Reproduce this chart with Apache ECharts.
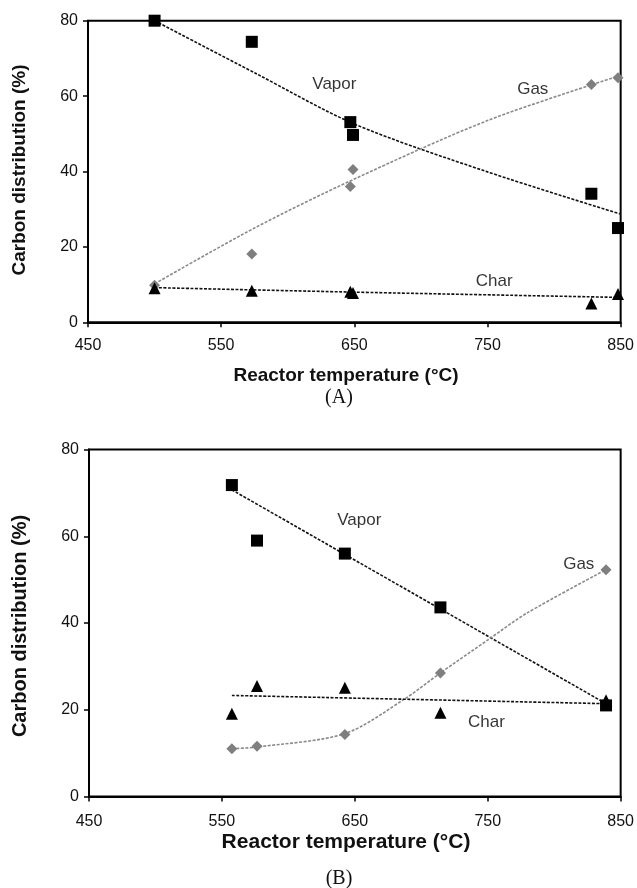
<!DOCTYPE html>
<html>
<head>
<meta charset="utf-8">
<script src="https://cdn.jsdelivr.net/npm/echarts@6/dist/echarts.min.js"></script>
<style>
html,body{margin:0;padding:0;background:#fff;}
#chart{width:637px;height:888px;}
</style>
</head>
<body>
<div id="chart"></div>
<script>
// ---- Data ----
const xTickValues = [450, 550, 650, 750, 850];
const yTickValues = [0, 20, 40, 60, 80];

// Panel A measured points [temperature, %]
const aVapor = [[500, 80], [573, 74.4], [647, 53.1], [649, 49.7], [828, 34.1], [848, 25.0]];
const aGas   = [[500, 9.8], [573, 18.1], [649, 40.5], [647, 36.0], [828, 63.1], [848, 64.9]];
const aChar  = [[500, 9.0], [573, 8.4], [647, 8.1], [649, 7.8], [828, 5.0], [848, 7.5]];
// Panel A trend lines
const aVaporTrend = [[500, 80], [575, 66.2], [650, 52.6], [750, 39.9], [850, 28.7]];
const aGasTrend   = [[500, 10.2], [575, 25.0], [650, 38.0], [750, 53.5], [850, 65.5]];
const aCharTrend  = [[500, 9.2], [650, 8.0], [850, 6.6]];
// Panel A series labels [text, x, y]
const aLabels = [['Vapor', 635, 63.2], ['Gas', 784, 61.9], ['Char', 755, 11.0]];

// Panel B measured points
const bVapor = [[557.5, 71.8], [576.4, 59.0], [642.5, 56.0], [714.4, 43.6], [839, 21.0]];
const bGas   = [[557.5, 11.0], [576.4, 11.6], [642.5, 14.3], [714.4, 28.5], [839, 52.3]];
const bChar  = [[557.5, 19.1], [576.4, 25.5], [642.5, 25.1], [714.4, 19.3], [839, 22.2]];
// Panel B trend lines
const bVaporTrend = [[557.5, 70.7], [839, 21.4]];
const bGasTrend   = [[557.5, 11.0], [576, 11.4], [642.5, 14.5], [688, 22.6], [714, 28.4], [752, 36.5], [779, 42.2], [839, 52.3]];
const bCharTrend  = [[557.5, 23.3], [839, 21.4]];
const bLabels = [['Vapor', 653.4, 63.7], ['Gas', 818.5, 53.6], ['Char', 749, 17.2]];

// ---- Chart ----
const chart = echarts.init(document.getElementById('chart'), null, {renderer: 'canvas'});
const FONT = 'Liberation Sans, Arial, sans-serif';

function xAxisDef(gi, margin) {
  return {
    type: 'value', gridIndex: gi, min: xTickValues[0], max: xTickValues[xTickValues.length - 1],
    interval: xTickValues[1] - xTickValues[0],
    axisLine: {show: true, lineStyle: {color: '#000', width: 2}},
    axisTick: {show: true, length: 5, lineStyle: {color: '#000', width: 1.5}},
    axisLabel: {color: '#111', fontSize: 16, fontFamily: FONT, margin: margin},
    splitLine: {show: false}
  };
}
function yAxisDef(gi) {
  return {
    type: 'value', gridIndex: gi, min: yTickValues[0], max: yTickValues[yTickValues.length - 1],
    interval: yTickValues[1] - yTickValues[0],
    axisLine: {show: true, lineStyle: {color: '#000', width: 2}},
    axisTick: {show: true, length: 5, lineStyle: {color: '#000', width: 1.5}},
    axisLabel: {color: '#111', fontSize: 16, fontFamily: FONT, margin: 10},
    splitLine: {show: false}
  };
}
function trend(data, gi, color) {
  return {
    type: 'line', xAxisIndex: gi, yAxisIndex: gi, data: data, smooth: 0.3,
    showSymbol: false, symbol: 'none', silent: true, z: 2,
    lineStyle: {color: color, width: 1.6, type: [3, 1.5]}
  };
}
function pts(data, gi, symbol, size, color) {
  return {
    type: 'scatter', xAxisIndex: gi, yAxisIndex: gi, data: data, symbol: symbol,
    symbolSize: size, itemStyle: {color: color, opacity: 1}, z: 3
  };
}
function labels(arr, gi) {
  return {
    type: 'scatter', xAxisIndex: gi, yAxisIndex: gi, symbolSize: 0, silent: true, z: 4,
    data: arr.map(l => ({name: l[0], value: [l[1], l[2]]})),
    label: {show: true, position: 'inside', formatter: '{b}', color: '#000', fontSize: 17, fontFamily: FONT}
  };
}

const option = {
  backgroundColor: '#fff',
  animation: false,
  grid: [
    {left: 88, right: 14, top: 20.7, height: 301.6, show: true, borderColor: '#000', borderWidth: 2},
    {left: 89, right: 14, top: 449.5, height: 347, show: true, borderColor: '#000', borderWidth: 2}
  ],
  xAxis: [xAxisDef(0, 15), xAxisDef(1, 17)],
  yAxis: [yAxisDef(0), yAxisDef(1)],
  series: [
    trend(aVaporTrend, 0, '#111'),
    trend(aGasTrend, 0, '#8a8a8a'),
    trend(aCharTrend, 0, '#111'),
    pts(aGas, 0, 'diamond', 11, '#7f7f7f'),
    pts(aVapor, 0, 'rect', 12, '#000'),
    pts(aChar, 0, 'triangle', 12, '#000'),
    labels(aLabels, 0),
    trend(bVaporTrend, 1, '#111'),
    trend(bGasTrend, 1, '#8a8a8a'),
    trend(bCharTrend, 1, '#111'),
    pts(bGas, 1, 'diamond', 11, '#7f7f7f'),
    pts(bChar, 1, 'triangle', 12, '#000'),
    pts(bVapor, 1, 'rect', 12, '#000'),
    labels(bLabels, 1)
  ],
  graphic: [
    {type: 'text', x: 346, y: 376, style: {text: 'Reactor temperature (°C)', font: 'bold 19px ' + FONT, fill: '#111', textAlign: 'center', textVerticalAlign: 'middle'}},
    {type: 'text', x: 20, y: 170, rotation: Math.PI / 2, style: {text: 'Carbon distribution (%)', font: 'bold 19px ' + FONT, fill: '#111', textAlign: 'center', textVerticalAlign: 'middle'}},
    {type: 'text', x: 339, y: 398, style: {text: '(A)', font: '20px Liberation Serif, Times New Roman, serif', fill: '#111', textAlign: 'center', textVerticalAlign: 'middle'}},
    {type: 'text', x: 346, y: 842, style: {text: 'Reactor temperature (°C)', font: 'bold 21px ' + FONT, fill: '#111', textAlign: 'center', textVerticalAlign: 'middle'}},
    {type: 'text', x: 20, y: 626, rotation: Math.PI / 2, style: {text: 'Carbon distribution (%)', font: 'bold 20px ' + FONT, fill: '#111', textAlign: 'center', textVerticalAlign: 'middle'}},
    {type: 'text', x: 339, y: 879, style: {text: '(B)', font: '20px Liberation Serif, Times New Roman, serif', fill: '#111', textAlign: 'center', textVerticalAlign: 'middle'}}
  ]
};
chart.setOption(option);
</script>
</body>
</html>
